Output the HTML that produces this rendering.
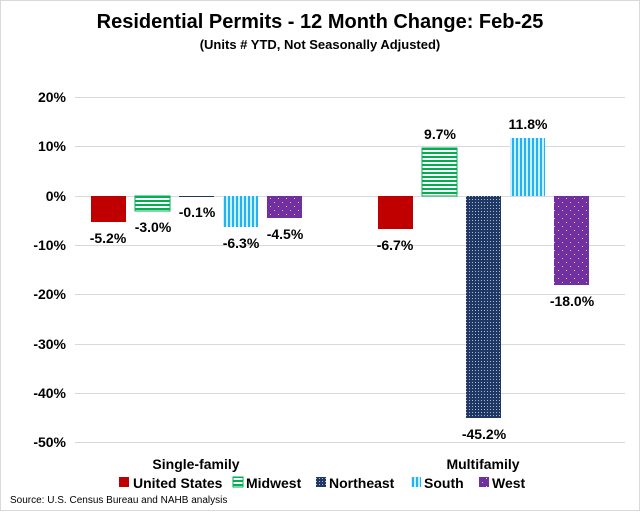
<!DOCTYPE html>
<html><head><style>
body{margin:0;background:#fff;}
svg text{font-family:"Liberation Sans",Arial,sans-serif;}
</style></head><body>
<svg width="640" height="511" viewBox="0 0 640 511" xmlns="http://www.w3.org/2000/svg">
<defs>
<pattern id="mw" width="4" height="4" patternUnits="userSpaceOnUse"><rect width="4" height="4" fill="#fff"/><rect width="4" height="2" fill="#00b050"/></pattern>
<pattern id="ne" width="3" height="3" patternUnits="userSpaceOnUse"><rect width="3" height="3" fill="#203864"/><rect x="1" y="1" width="1" height="1" fill="#aab8d8"/></pattern>
<pattern id="so" width="4" height="4" patternUnits="userSpaceOnUse"><rect width="4" height="4" fill="#cdefff"/><rect width="2" height="4" fill="#1fb4f2"/></pattern>
<pattern id="we" width="8" height="8" patternUnits="userSpaceOnUse"><rect width="8" height="8" fill="#7030a0"/><rect x="2" y="2" width="1" height="1" fill="#d8c0f0"/><rect x="6" y="6" width="1" height="1" fill="#d8c0f0"/></pattern>
</defs>
<rect x="0.5" y="0.5" width="639" height="510" fill="#fff" stroke="#d9d9d9"/>
<text x="320" y="28" font-size="20" font-weight="bold" text-anchor="middle">Residential Permits - 12 Month Change:  Feb-25</text>
<text x="320" y="49" font-size="13" font-weight="bold" text-anchor="middle">(Units # YTD, Not Seasonally Adjusted)</text>
<g stroke="#d9d9d9" stroke-width="1">
<line x1="75" x2="625" y1="97.5" y2="97.5"/><line x1="75" x2="625" y1="146.5" y2="146.5"/><line x1="75" x2="625" y1="196.5" y2="196.5"/><line x1="75" x2="625" y1="245.5" y2="245.5"/><line x1="75" x2="625" y1="294.5" y2="294.5"/><line x1="75" x2="625" y1="344.5" y2="344.5"/><line x1="75" x2="625" y1="393.5" y2="393.5"/><line x1="75" x2="625" y1="442.5" y2="442.5"/>
</g>
<g font-size="14" font-weight="bold" text-anchor="end">
<text x="66" y="102">20%</text><text x="66" y="151">10%</text><text x="66" y="201">0%</text><text x="66" y="250">-10%</text><text x="66" y="299">-20%</text><text x="66" y="349">-30%</text><text x="66" y="398">-40%</text><text x="66" y="447">-50%</text>
</g>
<!-- single family -->
<rect x="91" y="196" width="35" height="26" fill="#c00000"/>
<rect x="135" y="196" width="35" height="15" fill="url(#mw)" stroke="#00b050" stroke-width="1"/>
<rect x="179" y="196" width="35" height="1" fill="#203864"/>
<rect x="223" y="196" width="35" height="31" fill="url(#so)"/>
<rect x="267" y="196" width="35" height="22" fill="url(#we)"/>
<!-- multifamily -->
<rect x="378" y="196" width="35" height="33" fill="#c00000"/>
<rect x="422" y="148" width="35" height="48" fill="url(#mw)" stroke="#00b050" stroke-width="1"/>
<rect x="466" y="196" width="35" height="222" fill="url(#ne)"/>
<rect x="510" y="138" width="35" height="58" fill="url(#so)"/>
<rect x="554" y="196" width="35" height="89" fill="url(#we)"/>
<g font-size="14" font-weight="bold" text-anchor="middle">
<text x="108" y="243">-5.2%</text><text x="153" y="232">-3.0%</text><text x="197" y="217">-0.1%</text><text x="241" y="248">-6.3%</text><text x="285" y="239">-4.5%</text>
<text x="395" y="250">-6.7%</text><text x="440" y="139">9.7%</text><text x="484" y="439">-45.2%</text><text x="528" y="129">11.8%</text><text x="572" y="306">-18.0%</text>
<text x="196" y="469">Single-family</text><text x="483" y="469">Multifamily</text>
</g>
<g font-size="14" font-weight="bold">
<rect x="119" y="477" width="10" height="10" fill="#c00000"/><text x="133" y="488">United States</text>
<rect x="233" y="477" width="10" height="10" fill="url(#mw)" stroke="#00b050"/><text x="246" y="488">Midwest</text>
<rect x="316" y="477" width="10" height="10" fill="url(#ne)"/><text x="329" y="488">Northeast</text>
<rect x="411" y="477" width="10" height="10" fill="url(#so)"/><text x="424" y="488">South</text>
<rect x="479" y="477" width="10" height="10" fill="url(#we)"/><text x="492" y="488">West</text>
</g>
<text x="10" y="503" font-size="10">Source: U.S. Census Bureau and NAHB analysis</text>
</svg>
</body></html>
